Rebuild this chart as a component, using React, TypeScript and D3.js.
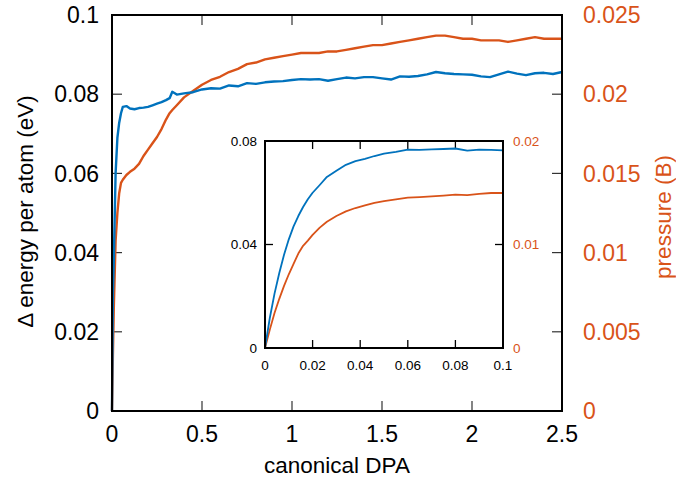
import React from "react";
import * as d3 from "d3";

// ---------- data ----------
const mainDPA = [
  0, 0.005, 0.01, 0.02, 0.03, 0.04, 0.05, 0.06, 0.08, 0.1,
  0.125, 0.15, 0.175, 0.2, 0.225, 0.25, 0.275, 0.3, 0.32, 0.335,
  0.36, 0.4, 0.45, 0.5, 0.55, 0.6, 0.65, 0.7, 0.75, 0.8,
  0.85, 0.9, 0.95, 1.0, 1.05, 1.1, 1.15, 1.2, 1.25, 1.3,
  1.35, 1.4, 1.45, 1.5, 1.55, 1.6, 1.65, 1.7, 1.75, 1.8,
  1.85, 1.9, 1.95, 2.0, 2.05, 2.1, 2.15, 2.2, 2.25, 2.3,
  2.35, 2.4, 2.45, 2.5,
];
const mainEnergy = [
  0, 0.03, 0.038, 0.06, 0.069, 0.0728, 0.0752, 0.0768, 0.077, 0.0764,
  0.0762, 0.0765, 0.0766, 0.0768, 0.0772, 0.0776, 0.078, 0.0785, 0.079, 0.0806,
  0.0799, 0.0802, 0.0805, 0.0812, 0.0815, 0.0814, 0.0822, 0.082, 0.0828, 0.0826,
  0.083, 0.0832, 0.0833, 0.0836, 0.0838, 0.0837, 0.0838, 0.0834, 0.0838, 0.0842,
  0.084, 0.0843, 0.0843, 0.084, 0.0837, 0.0845, 0.0844, 0.0846, 0.085, 0.0856,
  0.0853, 0.0851, 0.085, 0.0849, 0.0845, 0.0843, 0.085, 0.0857, 0.0852, 0.0848,
  0.0853, 0.0854, 0.0851, 0.0856,
];
const mainPressure = [
  0, 0.0035, 0.0065, 0.01075, 0.0125, 0.01375, 0.0144, 0.0146, 0.0149, 0.0151,
  0.0153, 0.0156, 0.0161, 0.0165, 0.0169, 0.0173, 0.0178, 0.0184, 0.0188, 0.019,
  0.0193, 0.0198, 0.0202, 0.0206, 0.0209, 0.0211, 0.0214, 0.0216, 0.0219, 0.022,
  0.0222, 0.0223, 0.0224, 0.0225, 0.0226, 0.0226, 0.0226, 0.0227, 0.0227, 0.0228,
  0.0229, 0.023, 0.0231, 0.0231, 0.0232, 0.0233, 0.0234, 0.0235, 0.0236, 0.0237,
  0.0237, 0.0236, 0.0235, 0.0235, 0.0234, 0.0234, 0.0234, 0.0233, 0.0234, 0.0235,
  0.0236, 0.0235, 0.0235, 0.0235,
];

const insetDPA = [
  0, 0.002, 0.004, 0.006, 0.008, 0.01, 0.012, 0.014, 0.016, 0.018,
  0.02, 0.023, 0.026, 0.03, 0.034, 0.038, 0.042, 0.046, 0.05, 0.055,
  0.06, 0.065, 0.07, 0.075, 0.08, 0.085, 0.09, 0.095, 0.1,
];
const insetEnergy = [
  0, 0.0115, 0.021, 0.029, 0.036, 0.042, 0.047, 0.051, 0.0545, 0.0575,
  0.06, 0.063, 0.0661, 0.0685, 0.0708, 0.0722, 0.0731, 0.0742, 0.0751, 0.0758,
  0.0767, 0.0766, 0.0768, 0.0769, 0.0771, 0.0763, 0.0767, 0.0766, 0.0764,
];
const insetPressure = [
  0, 0.00175, 0.003375, 0.00475, 0.006, 0.007125, 0.008125, 0.009125, 0.009875, 0.010375,
  0.010925, 0.011625, 0.0122, 0.01275, 0.0132, 0.013525, 0.013775, 0.014025, 0.0142, 0.01435,
  0.014525, 0.014575, 0.01465, 0.014725, 0.014825, 0.014775, 0.0149, 0.014975, 0.014975,
];

const mainXTicks = [0, 0.5, 1, 1.5, 2, 2.5];
const mainXTickLabels = ["0", "0.5", "1", "1.5", "2", "2.5"];
const mainYTicks = [0, 0.02, 0.04, 0.06, 0.08, 0.1];
const mainYTickLabels = ["0", "0.02", "0.04", "0.06", "0.08", "0.1"];
const mainY2Ticks = [0, 0.005, 0.01, 0.015, 0.02, 0.025];
const mainY2TickLabels = ["0", "0.005", "0.01", "0.015", "0.02", "0.025"];

const insetXTicks = [0, 0.02, 0.04, 0.06, 0.08, 0.1];
const insetXTickLabels = ["0", "0.02", "0.04", "0.06", "0.08", "0.1"];
const insetYTicks = [0, 0.04, 0.08];
const insetYTickLabels = ["0", "0.04", "0.08"];
const insetY2Ticks = [0, 0.01, 0.02];
const insetY2TickLabels = ["0", "0.01", "0.02"];

const xTitle = "canonical DPA";
const yTitle = "\u0394 energy per atom (eV)";
const y2Title = "pressure (B)";

// ---------- style ----------
const BLUE = "#0072BD";
const ORANGE = "#D95319";
const FONT = "'Liberation Sans', Arial, Helvetica, sans-serif";
const W = 676;
const H = 479;

export default function App() {
  // main plot area
  const m = { l: 112, r: 562, t: 15, b: 411 };
  const x = d3.scaleLinear().domain([0, 2.5]).range([m.l, m.r]);
  const y = d3.scaleLinear().domain([0, 0.1]).range([m.b, m.t]);
  const y2 = d3.scaleLinear().domain([0, 0.025]).range([m.b, m.t]);

  // inset area
  const n = { l: 265, r: 503, t: 141, b: 348 };
  const xi = d3.scaleLinear().domain([0, 0.1]).range([n.l, n.r]);
  const yi = d3.scaleLinear().domain([0, 0.08]).range([n.b, n.t]);
  const yi2 = d3.scaleLinear().domain([0, 0.02]).range([n.b, n.t]);

  const mainE = d3.line<number>().x((_, i) => x(mainDPA[i])).y((d) => y(d))(mainEnergy) || "";
  const mainP = d3.line<number>().x((_, i) => x(mainDPA[i])).y((d) => y2(d))(mainPressure) || "";
  const insE = d3.line<number>().x((_, i) => xi(insetDPA[i])).y((d) => yi(d))(insetEnergy) || "";
  const insP = d3.line<number>().x((_, i) => xi(insetDPA[i])).y((d) => yi2(d))(insetPressure) || "";

  const tk = "#333";
  const TL = 10;
  const TLi = 8;

  return (
    <svg
      width={W}
      height={H}
      style={{ position: "absolute", left: 0, top: 0, background: "#fff" }}
      fontFamily={FONT}
    >
      <rect x={0} y={0} width={W} height={H} fill="#fff" />
      {/* main ticks */}
      {mainXTicks.map((t, i) => (
        <g key={"mx" + i}>
          <line x1={x(t)} x2={x(t)} y1={m.b} y2={m.b - TL} stroke={tk} strokeWidth={1.2} />
          <line x1={x(t)} x2={x(t)} y1={m.t} y2={m.t + TL} stroke={tk} strokeWidth={1.2} />
          <text x={x(t)} y={442} fontSize={23} textAnchor="middle" fill="#000">
            {mainXTickLabels[i]}
          </text>
        </g>
      ))}
      {mainYTicks.map((t, i) => (
        <g key={"my" + i}>
          <line x1={m.l} x2={m.l + TL} y1={y(t)} y2={y(t)} stroke={tk} strokeWidth={1.2} />
          <text x={99} y={y(t)} dy="0.36em" fontSize={23} textAnchor="end" fill="#000">
            {mainYTickLabels[i]}
          </text>
        </g>
      ))}
      {mainY2Ticks.map((t, i) => (
        <g key={"my2" + i}>
          <line x1={m.r} x2={m.r - TL} y1={y2(t)} y2={y2(t)} stroke={tk} strokeWidth={1.2} />
          <text x={583} y={y2(t)} dy="0.36em" fontSize={23} textAnchor="start" fill={ORANGE}>
            {mainY2TickLabels[i]}
          </text>
        </g>
      ))}

      {/* main curves */}
      <path d={mainP} fill="none" stroke={ORANGE} strokeWidth={2.4} strokeLinejoin="round" />
      <path d={mainE} fill="none" stroke={BLUE} strokeWidth={2.4} strokeLinejoin="round" />

      {/* main frame */}
      <rect x={m.l} y={m.t} width={m.r - m.l} height={m.b - m.t} fill="none" stroke="#000" strokeWidth={2} />

      {/* titles */}
      <text x={(m.l + m.r) / 2} y={473} fontSize={22.5} textAnchor="middle" fill="#000">
        {xTitle}
      </text>
      <text
        transform={`translate(33, 211.5) rotate(-90)`}
        fontSize={22.5}
        textAnchor="middle"
        fill="#000"
      >
        {yTitle}
      </text>
      <text
        transform={`translate(671, 217) rotate(-90)`}
        fontSize={22.5}
        textAnchor="middle"
        fill={ORANGE}
      >
        {y2Title}
      </text>

      {/* inset */}
      <rect x={n.l} y={n.t} width={n.r - n.l} height={n.b - n.t} fill="#fff" />
      {insetXTicks.map((t, i) => (
        <g key={"ix" + i}>
          <line x1={xi(t)} x2={xi(t)} y1={n.b} y2={n.b - TLi} stroke="#000" strokeWidth={1.3} />
          <line x1={xi(t)} x2={xi(t)} y1={n.t} y2={n.t + TLi} stroke="#000" strokeWidth={1.3} />
          <text x={xi(t)} y={369.5} fontSize={13.5} textAnchor="middle" fill="#000">
            {insetXTickLabels[i]}
          </text>
        </g>
      ))}
      {insetYTicks.map((t, i) => (
        <g key={"iy" + i}>
          <line x1={n.l} x2={n.l + TLi} y1={yi(t)} y2={yi(t)} stroke="#000" strokeWidth={1.3} />
          <text x={257} y={yi(t)} dy="0.36em" fontSize={13.5} textAnchor="end" fill="#000">
            {insetYTickLabels[i]}
          </text>
        </g>
      ))}
      {insetY2Ticks.map((t, i) => (
        <g key={"iy2" + i}>
          <line x1={n.r} x2={n.r - TLi} y1={yi2(t)} y2={yi2(t)} stroke="#000" strokeWidth={1.3} />
          <text x={513} y={yi2(t)} dy="0.36em" fontSize={13.5} textAnchor="start" fill={ORANGE}>
            {insetY2TickLabels[i]}
          </text>
        </g>
      ))}
      <path d={insP} fill="none" stroke={ORANGE} strokeWidth={1.8} strokeLinejoin="round" />
      <path d={insE} fill="none" stroke={BLUE} strokeWidth={1.8} strokeLinejoin="round" />
      <rect x={n.l} y={n.t} width={n.r - n.l} height={n.b - n.t} fill="none" stroke="#000" strokeWidth={2} />
    </svg>
  );
}
